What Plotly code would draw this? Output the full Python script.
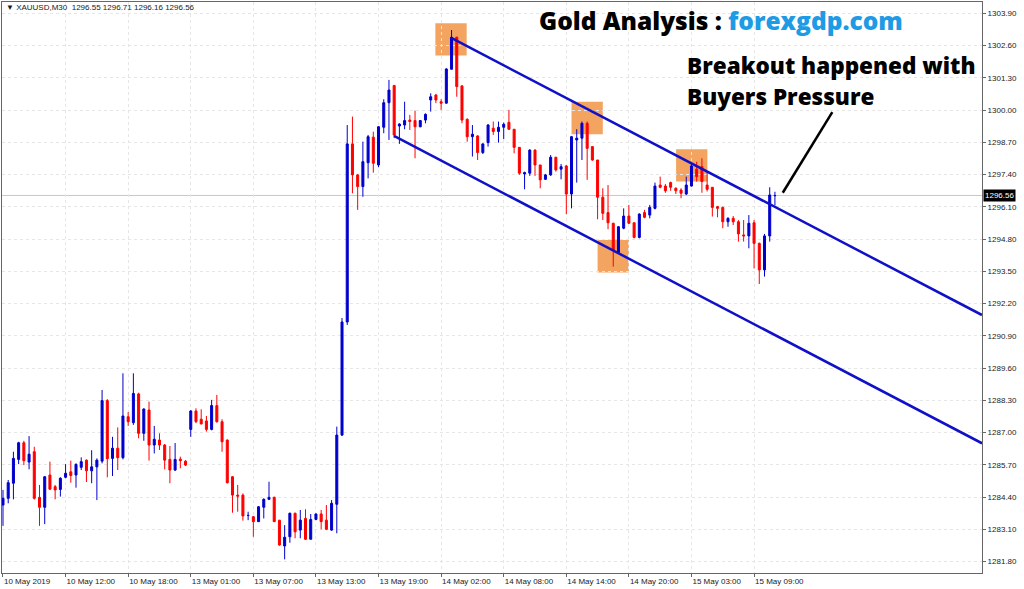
import plotly.graph_objects as go

# ---------------- data (XAUUSD M30 candles) ----------------
bar_index = list(range(149))

opens = [1284.08, 1284.35, 1284.96, 1285.92, 1286.59, 1285.81, 1286.23, 1284.39, 1283.99, 1285.29,
         1284.82, 1284.71, 1285.20, 1285.42, 1285.29, 1285.60, 1285.89, 1285.46, 1285.62, 1285.85,
         1288.29, 1285.96, 1286.37, 1285.99, 1287.64, 1287.40, 1288.56, 1286.97, 1287.91, 1286.50,
         1286.70, 1286.50, 1285.92, 1285.49, 1285.93, 1285.85, 1287.13, 1287.87, 1287.54, 1287.47,
         1287.13, 1288.09, 1287.44, 1286.70, 1285.22, 1284.48, 1284.48, 1283.66, 1283.61, 1283.41,
         1283.99, 1284.31, 1284.39, 1283.47, 1282.43, 1282.80, 1283.75, 1283.07, 1283.54, 1282.70,
         1283.50, 1283.72, 1283.47, 1283.07, 1284.11, 1286.90, 1291.46, 1298.64, 1297.39, 1296.92,
         1297.88, 1298.91, 1297.79, 1299.31, 1300.30, 1300.99, 1299.36, 1299.40, 1299.60, 1299.58,
         1299.33, 1299.60, 1300.41, 1300.61, 1300.34, 1300.28, 1301.65, 1302.94, 1300.98, 1299.63,
         1298.93, 1298.96, 1298.29, 1298.69, 1299.27, 1299.14, 1299.31, 1299.51, 1299.23, 1298.50,
         1297.43, 1297.46, 1298.39, 1297.79, 1297.21, 1297.39, 1298.10, 1297.62, 1297.75, 1296.62,
         1298.80, 1298.87, 1299.47, 1298.53, 1297.99, 1296.49, 1295.87, 1295.44, 1294.25, 1295.24,
         1295.73, 1295.46, 1294.87, 1295.87, 1295.77, 1296.04, 1296.98, 1296.94, 1297.08, 1296.85,
         1296.78, 1296.62, 1296.94, 1297.62, 1297.72, 1296.98, 1296.89, 1296.11, 1296.08, 1295.50,
         1295.64, 1295.50, 1294.97, 1294.93, 1295.46, 1294.63, 1293.56, 1294.93, 1296.55]

highs = [1284.69, 1285.09, 1286.23, 1286.63, 1286.67, 1286.86, 1286.43, 1284.89, 1285.25, 1285.83,
         1284.89, 1285.20, 1285.73, 1285.87, 1285.76, 1286.00, 1285.92, 1286.29, 1285.96, 1288.72,
         1288.35, 1286.83, 1287.21, 1289.39, 1287.83, 1289.39, 1288.61, 1287.98, 1288.25, 1287.27,
         1286.97, 1286.54, 1286.46, 1286.58, 1286.03, 1285.89, 1287.91, 1287.98, 1287.94, 1287.67,
         1288.32, 1288.52, 1287.54, 1286.72, 1285.25, 1284.89, 1284.55, 1283.81, 1283.64, 1284.04,
         1284.35, 1285.02, 1284.42, 1283.47, 1283.27, 1283.77, 1283.77, 1283.88, 1283.91, 1283.72,
         1283.74, 1283.88, 1284.08, 1284.28, 1287.24, 1291.62, 1299.40, 1299.74, 1297.42, 1298.73,
         1299.00, 1299.13, 1299.36, 1300.44, 1301.22, 1301.02, 1299.47, 1300.34, 1299.81, 1299.98,
         1299.60, 1299.87, 1300.68, 1300.65, 1300.44, 1301.69, 1303.23, 1302.96, 1300.98, 1299.67,
         1299.40, 1298.99, 1298.66, 1299.44, 1299.54, 1299.54, 1299.50, 1300.01, 1299.23, 1298.50,
         1297.52, 1298.42, 1298.42, 1297.79, 1297.43, 1298.19, 1298.12, 1297.83, 1297.79, 1298.96,
         1299.23, 1299.54, 1299.54, 1298.53, 1297.99, 1296.85, 1296.98, 1295.46, 1295.33, 1296.04,
         1296.18, 1295.46, 1295.84, 1295.98, 1296.18, 1297.08, 1297.32, 1297.02, 1297.12, 1296.89,
         1296.85, 1297.32, 1297.86, 1297.92, 1298.06, 1297.52, 1296.89, 1296.14, 1296.11, 1295.68,
         1295.73, 1295.57, 1295.57, 1295.77, 1295.57, 1294.66, 1295.01, 1296.89, 1296.71]

lows = [1283.24, 1284.15, 1284.31, 1285.73, 1285.69, 1285.52, 1284.30, 1283.24, 1283.31, 1284.69,
        1284.31, 1284.42, 1285.16, 1284.98, 1284.78, 1285.49, 1285.01, 1284.96, 1284.28, 1285.76,
        1285.20, 1285.25, 1285.49, 1285.92, 1287.27, 1287.31, 1286.77, 1286.67, 1285.87, 1286.16,
        1286.30, 1285.52, 1284.96, 1285.45, 1285.56, 1285.65, 1286.83, 1287.38, 1287.33, 1287.04,
        1287.09, 1287.40, 1286.23, 1284.95, 1283.77, 1283.81, 1283.45, 1283.47, 1282.80, 1283.40,
        1283.54, 1284.28, 1283.40, 1282.44, 1281.89, 1282.56, 1282.74, 1282.74, 1282.67, 1282.70,
        1283.47, 1283.10, 1283.07, 1283.04, 1282.94, 1286.86, 1291.34, 1296.65, 1295.98, 1296.51,
        1297.25, 1297.48, 1297.70, 1299.07, 1298.80, 1298.87, 1298.64, 1299.23, 1299.20, 1298.06,
        1299.31, 1299.47, 1299.94, 1300.28, 1300.01, 1300.27, 1301.64, 1300.54, 1299.47, 1298.73,
        1298.13, 1297.99, 1298.23, 1298.53, 1299.00, 1298.69, 1298.83, 1299.20, 1298.26, 1297.39,
        1296.81, 1297.35, 1297.35, 1296.85, 1297.19, 1297.35, 1297.52, 1297.21, 1295.81, 1296.04,
        1297.08, 1297.99, 1297.19, 1297.96, 1295.60, 1295.57, 1295.20, 1293.69, 1294.23, 1295.20,
        1295.41, 1294.83, 1294.83, 1295.64, 1295.64, 1296.00, 1296.85, 1296.67, 1296.75, 1296.62,
        1296.45, 1296.58, 1296.92, 1297.12, 1296.67, 1296.72, 1295.71, 1295.68, 1295.24, 1295.30,
        1295.37, 1294.70, 1294.70, 1294.43, 1293.62, 1292.99, 1293.29, 1294.70, 1296.16]

closes = [1284.35, 1284.98, 1285.96, 1286.59, 1285.87, 1286.13, 1284.35, 1283.99, 1285.22, 1284.72,
          1284.69, 1285.16, 1285.36, 1285.27, 1285.72, 1285.83, 1285.46, 1285.62, 1285.89, 1288.29,
          1285.95, 1286.37, 1285.99, 1287.67, 1287.44, 1288.58, 1286.97, 1287.95, 1286.50, 1286.73,
          1286.50, 1285.89, 1285.49, 1285.92, 1285.87, 1285.69, 1287.87, 1287.44, 1287.35, 1287.13,
          1288.09, 1287.44, 1286.63, 1284.98, 1284.48, 1284.44, 1283.64, 1283.66, 1283.41, 1284.01,
          1284.31, 1284.39, 1283.41, 1282.47, 1282.78, 1283.75, 1283.00, 1283.47, 1282.70, 1283.50,
          1283.72, 1283.41, 1283.10, 1284.15, 1286.90, 1291.46, 1298.64, 1297.39, 1296.92, 1297.92,
          1298.93, 1297.86, 1299.33, 1300.30, 1300.81, 1299.00, 1299.44, 1299.58, 1299.54, 1299.33,
          1299.58, 1299.83, 1300.54, 1300.41, 1300.28, 1301.66, 1302.94, 1300.95, 1299.60, 1298.93,
          1299.03, 1298.29, 1298.64, 1299.40, 1299.14, 1299.31, 1299.43, 1299.23, 1298.50, 1297.46,
          1297.48, 1298.39, 1297.79, 1297.19, 1297.39, 1298.10, 1297.59, 1297.72, 1296.62, 1298.93,
          1298.87, 1299.47, 1298.46, 1297.99, 1296.49, 1295.84, 1295.46, 1294.36, 1295.30, 1295.73,
          1295.44, 1294.87, 1295.81, 1295.68, 1296.08, 1296.94, 1296.89, 1296.75, 1296.89, 1296.75,
          1296.65, 1296.98, 1297.75, 1297.32, 1297.12, 1296.81, 1296.08, 1296.04, 1295.50, 1295.64,
          1295.50, 1295.01, 1294.93, 1295.44, 1294.63, 1293.56, 1294.93, 1296.58, 1296.56]

x_tick_index = [0, 12, 24, 36, 48, 60, 72, 84, 96, 108, 120, 132, 144]
x_tick_labels = ["10 May 2019", "10 May 12:00", "10 May 18:00", "13 May 01:00", "13 May 07:00",
                 "13 May 13:00", "13 May 19:00", "14 May 02:00", "14 May 08:00", "14 May 14:00",
                 "14 May 20:00", "15 May 03:00", "15 May 09:00"]

y_tick_values = [1281.80, 1283.10, 1284.40, 1285.70, 1287.00, 1288.30, 1289.60, 1290.90, 1292.20,
                 1293.50, 1294.80, 1296.10, 1297.40, 1298.70, 1300.00, 1301.30, 1302.60, 1303.90]

current_price = 1296.56
header_text = "▼ XAUUSD,M30  1296.55 1296.71 1296.16 1296.56"

# channel trend lines (bar index, price)
upper_channel = [(86.04, 1302.90), (187.7, 1291.74)]
lower_channel = [(74.97, 1298.96), (187.7, 1286.57)]
# highlighted touch points: (x0, x1, y0, y1) in bar index / price
touch_boxes = [(82.9, 88.9, 1302.20, 1303.50),
               (109.0, 115.0, 1299.03, 1300.34),
               (114.0, 120.0, 1293.45, 1294.77),
               (129.05, 135.05, 1297.12, 1298.42)]
pointer_line = [(149.5, 1296.67), (159.0, 1299.92)]

# ---------------- figure ----------------
BLUE = "#0000cd"
RED = "#ff0000"

fig = go.Figure()
fig.add_trace(go.Candlestick(
    x=bar_index, open=opens, high=highs, low=lows, close=closes,
    increasing=dict(line=dict(color=BLUE, width=1), fillcolor=BLUE),
    decreasing=dict(line=dict(color=RED, width=1), fillcolor=RED),
    whiskerwidth=0, hoverinfo="skip", showlegend=False,
))

shapes = []
for (x0, x1, y0, y1) in touch_boxes:
    shapes.append(dict(type="rect", xref="x", yref="y", x0=x0, x1=x1, y0=y0, y1=y1,
                       fillcolor="#f4a461", line=dict(width=0), layer="below"))
shapes.append(dict(type="line", xref="x", yref="y", x0=-1, x1=200, y0=current_price,
                   y1=current_price, line=dict(color="#c3c9cf", width=1), layer="below"))
for seg in (upper_channel, lower_channel):
    shapes.append(dict(type="line", xref="x", yref="y", x0=seg[0][0], y0=seg[0][1],
                       x1=seg[1][0], y1=seg[1][1], line=dict(color="#1010c8", width=2.5)))
shapes.append(dict(type="line", xref="x", yref="y", x0=pointer_line[0][0], y0=pointer_line[0][1],
                   x1=pointer_line[1][0], y1=pointer_line[1][1], line=dict(color="black", width=2.5)))

small_font = dict(family="Liberation Sans, Arial, sans-serif", size=8, color="#1a1a1a")
title_font = dict(family="Open Sans, Lato, sans-serif", size=24.5, color="black", weight=800)
big_font = dict(family="Open Sans, Lato, sans-serif", size=22.5, color="black", weight=800)

annotations = [
    dict(xref="paper", yref="paper", x=0.002, y=0.9895, xanchor="left", yanchor="middle",
         text=header_text, showarrow=False, font=small_font),
    dict(xref="paper", yref="paper", x=0.546, y=0.968, xanchor="left", yanchor="middle",
         text="Gold Analysis : <span style='color:#1d9be4'>forexgdp.com</span>",
         showarrow=False, font=title_font),
    dict(xref="paper", yref="paper", x=0.6969, y=0.888, xanchor="left", yanchor="middle",
         text="Breakout happened with", showarrow=False, font=big_font),
    dict(xref="paper", yref="paper", x=0.6969, y=0.834, xanchor="left", yanchor="middle",
         text="Buyers Pressure", showarrow=False, font=big_font),
    dict(xref="paper", yref="y", x=1.0, y=current_price, xanchor="left", yanchor="middle",
         xshift=1, text=f"{current_price:.2f}", showarrow=False, bgcolor="black",
         borderpad=1, font=dict(family="Liberation Sans, Arial, sans-serif", size=8, color="white")),
]

fig.update_layout(
    width=1024, height=589,
    margin=dict(l=2, r=42, t=2, b=16),
    paper_bgcolor="white", plot_bgcolor="white",
    showlegend=False, boxgap=0.45,
    shapes=shapes, annotations=annotations,
    xaxis=dict(range=[-0.19, 187.7], tickmode="array", tickvals=x_tick_index,
               ticktext=x_tick_labels, ticklabelposition="outside right",
               ticks="outside", ticklen=3, tickcolor="#666",
               showline=True, mirror=True, linecolor="#666", linewidth=1,
               showgrid=True, gridcolor="#e6e6e6", griddash="dot", gridwidth=1,
               zeroline=False, rangeslider=dict(visible=False), tickfont=small_font),
    yaxis=dict(side="right", range=[1281.34, 1304.36], tickmode="array",
               tickvals=y_tick_values, ticktext=[f"{v:.2f}" for v in y_tick_values],
               ticks="outside", ticklen=3, tickcolor="#666",
               showline=True, mirror=True, linecolor="#666", linewidth=1,
               showgrid=True, gridcolor="#e6e6e6", griddash="dot", gridwidth=1,
               zeroline=False, tickfont=small_font),
)

fig.write_html("out.html", config={"displayModeBar": False},
               post_script="document.body.style.margin='0';")
